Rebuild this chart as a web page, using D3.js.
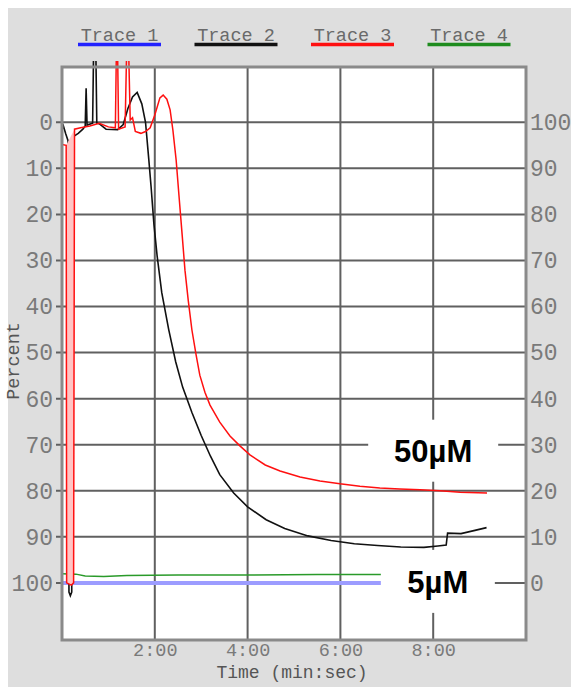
<!DOCTYPE html>
<html>
<head>
<meta charset="utf-8">
<script src="https://cdn.jsdelivr.net/npm/d3@7"></script>
<style>
  html, body { margin: 0; padding: 0; background: #fff; }
  #chart { width: 574px; height: 687px; }
</style>
</head>
<body>
<div id="chart"></div>
<script>
// 图例名称和颜色
const traceNames = ['Trace 1', 'Trace 2', 'Trace 3', 'Trace 4'];
const traceColors = ['#2222ff', '#111111', '#ff1010', '#1e8c1e'];

// 坐标轴刻度
const leftTicks = [0, 10, 20, 30, 40, 50, 60, 70, 80, 90, 100];
const rightTicks = [100, 90, 80, 70, 60, 50, 40, 30, 20, 10, 0];
const timeTicks = [2, 4, 6, 8];
const timeLabels = ['2:00', '4:00', '6:00', '8:00'];

// [分钟, 百分比(左轴)]
const trace1 = [[0, 100], [3, 100], [6, 100], [9.2, 100]];
const trace4 = [[0, 98], [0.3, 98.1], [0.5, 98.5], [0.9, 98.6], [1.4, 98.4], [2.5, 98.3],
  [4, 98.3], [5.5, 98.2], [7, 98.2], [9.2, 98.2]];
const trace2 = [[0, 1.7], [0.03, 0.8], [0.08, 2.5], [0.13, 4], [0.15, 102], [0.18, 102.8],
  [0.21, 102], [0.23, 8], [0.26, 3], [0.35, 2.4], [0.45, 1.5], [0.5, 0.8], [0.52, -7.4],
  [0.54, 0.6], [0.66, 0.2], [0.68, -15], [0.73, -15], [0.75, 0.2], [0.8, 0.3], [0.95, 1.5],
  [1.2, 1.6], [1.32, 0.5], [1.42, -3], [1.52, -5.5], [1.62, -6.5], [1.72, -4], [1.8, 0],
  [1.87, 8], [1.92, 14], [1.98, 22], [2.05, 29], [2.15, 37], [2.3, 45], [2.45, 52],
  [2.6, 57.5], [2.8, 63], [3.0, 68], [3.2, 72.5], [3.4, 76.5], [3.7, 80.5], [4.0, 83.5],
  [4.4, 86.3], [4.8, 88.2], [5.3, 89.8], [5.8, 90.8], [6.3, 91.5], [6.8, 91.9], [7.3, 92.2],
  [7.8, 92.3], [8.1, 92.0], [8.28, 91.8], [8.31, 89.2], [8.6, 89.3], [8.9, 88.6], [9.15, 88.0]];
const trace3Dip = [[0.09, 5], [0.1, 100], [0.2, 100.5], [0.25, 100], [0.27, 1.5]];
const trace3 = [[0, 4.8], [0.09, 5], [0.1, 100], [0.2, 100.5], [0.25, 100], [0.27, 1.5],
  [0.4, 1.2], [0.6, 0.8], [0.8, 0.2], [1.0, 1.0], [1.15, 1.2], [1.17, -14], [1.2, -14],
  [1.22, 1.5], [1.36, 1], [1.39, -14], [1.44, -14], [1.47, -0.5], [1.52, -1], [1.58, 2],
  [1.7, 2.4], [1.8, 2], [1.9, 1.2], [2.0, -1.6], [2.11, -5.3], [2.18, -5.9], [2.26, -5],
  [2.33, -2.7], [2.39, 1.7], [2.46, 8.2], [2.52, 15.8], [2.59, 24.5], [2.65, 32.1],
  [2.72, 38.6], [2.8, 45.1], [2.89, 50.5], [2.97, 54.9], [3.08, 58.6], [3.19, 61.4],
  [3.4, 65.1], [3.62, 68.1], [3.84, 70.3], [4.05, 72.2], [4.38, 74.4], [4.7, 75.7],
  [5.13, 77], [5.56, 77.9], [5.99, 78.5], [6.42, 79], [6.85, 79.4], [7.28, 79.6],
  [7.72, 79.8], [8.15, 80], [8.58, 80.3], [9.16, 80.5]];

// 注释
const notes = [
  { text: '50µM', t: 8, v: 70, dy: 6, w: 130, h: 62 },
  { text: '5µM', t: 8.1, v: 100, dy: -1.5, w: 114, h: 63 }
];

const width = 574, height = 687;
const margin = { top: 67, right: 48, bottom: 47, left: 62 };

const svg = d3.select('#chart').append('svg')
  .attr('width', width)
  .attr('height', height);

// 灰色背景
svg.append('rect').attr('x', 8).attr('y', 8)
  .attr('width', width - 11).attr('height', height - 8)
  .attr('fill', '#dedede');

const x = d3.scaleLinear().domain([0, 10]).range([margin.left, width - margin.right]);
const y = d3.scaleLinear().domain([-12, 112.4]).range([margin.top, height - margin.bottom]);
const yR = d3.scaleLinear().domain([100, 0]).range([y(0), y(100)]);

svg.append('rect')
  .attr('x', x(0)).attr('y', y(-12))
  .attr('width', x(10) - x(0)).attr('height', y(112.4) - y(-12))
  .attr('fill', '#fff');

// 网格线
svg.append('g').selectAll('line').data(leftTicks).join('line')
  .attr('x1', x(0) - 6).attr('x2', x(10))
  .attr('y1', d => y(d)).attr('y2', d => y(d))
  .attr('stroke', '#606060').attr('stroke-width', 2);

svg.append('g').selectAll('line').data(timeTicks).join('line')
  .attr('x1', d => x(d)).attr('x2', d => x(d))
  .attr('y1', y(-12)).attr('y2', y(112.4))
  .attr('stroke', '#606060').attr('stroke-width', 2);

// 曲线
svg.append('defs').append('clipPath').attr('id', 'clip')
  .append('rect')
  .attr('x', x(0)).attr('y', y(-12) - 6)
  .attr('width', x(10) - x(0)).attr('height', y(112.4) - y(-12) + 6);

const line = d3.line().x(d => x(d[0])).y(d => y(d[1]));
const plot = svg.append('g').attr('clip-path', 'url(#clip)');

plot.append('path').datum(trace1).attr('d', line)
  .attr('fill', 'none').attr('stroke', '#9c9cff').attr('stroke-width', 4);
plot.append('path').datum(trace4).attr('d', line)
  .attr('fill', 'none').attr('stroke', '#2a9a2a').attr('stroke-width', 1.5);
plot.append('path').datum(trace2).attr('d', line)
  .attr('fill', 'none').attr('stroke', '#111').attr('stroke-width', 1.6);
plot.append('path').datum(trace3Dip).attr('d', line)
  .attr('fill', '#ffc4c4').attr('stroke', 'none');
plot.append('path').datum(trace3).attr('d', line)
  .attr('fill', 'none').attr('stroke', '#ff1010').attr('stroke-width', 1.5);

// 边框
svg.append('rect')
  .attr('x', x(0)).attr('y', y(-12))
  .attr('width', x(10) - x(0)).attr('height', y(112.4) - y(-12))
  .attr('fill', 'none').attr('stroke', '#8a8a8a').attr('stroke-width', 3);

// 坐标轴文字
const mono = '"Liberation Mono", "DejaVu Sans Mono", monospace';

const gl = svg.append('g').attr('transform', `translate(${x(0)},0)`)
  .call(d3.axisLeft(y).tickValues(leftTicks).tickSize(6).tickPadding(3));
const gr = svg.append('g').attr('transform', `translate(${x(10)},0)`)
  .call(d3.axisRight(yR).tickValues(rightTicks).tickSize(0).tickPadding(4));
[gl, gr].forEach(g => {
  g.select('.domain').remove();
  g.selectAll('line').remove();
  g.selectAll('text').attr('font-family', mono).attr('font-size', 23).attr('fill', '#7a7a7a');
});

const gb = svg.append('g').attr('transform', `translate(0,${y(112.4)})`)
  .call(d3.axisBottom(x).tickValues(timeTicks).tickFormat((d, i) => timeLabels[i])
    .tickSize(0).tickPadding(3));
gb.select('.domain').remove();
gb.selectAll('text').attr('font-family', mono).attr('font-size', 18.5).attr('fill', '#7a7a7a');

svg.append('text')
  .attr('x', 292).attr('y', 678)
  .attr('text-anchor', 'middle')
  .attr('font-family', mono).attr('font-size', 18).attr('fill', '#555')
  .text('Time (min:sec)');

svg.append('text')
  .attr('transform', 'translate(19,361) rotate(-90)')
  .attr('text-anchor', 'middle')
  .attr('font-family', mono).attr('font-size', 18.5).attr('fill', '#555')
  .text('Percent');

// 图例
const lx = d3.scalePoint().domain(traceNames).range([119.5, 469]);
const leg = svg.append('g').selectAll('g').data(traceNames).join('g')
  .attr('transform', d => `translate(${lx(d)},0)`);
leg.append('line')
  .attr('x1', -41.5).attr('x2', 41.5).attr('y1', 44.5).attr('y2', 44.5)
  .attr('stroke', (d, i) => traceColors[i]).attr('stroke-width', 3.5);
leg.append('text')
  .attr('y', 40.5).attr('text-anchor', 'middle')
  .attr('font-family', mono).attr('font-size', 18.5).attr('fill', '#6a6a6a')
  .text(d => d);

// 浓度标签
const ng = svg.append('g').selectAll('g').data(notes).join('g')
  .attr('transform', d => `translate(${x(d.t)},${y(d.v) + d.dy})`);
ng.append('rect')
  .attr('x', d => -d.w / 2).attr('y', d => -d.h / 2)
  .attr('width', d => d.w).attr('height', d => d.h)
  .attr('fill', '#fff');
ng.append('text')
  .attr('text-anchor', 'middle').attr('dy', '0.36em')
  .attr('font-family', 'Liberation Sans, Arial, sans-serif')
  .attr('font-weight', 'bold').attr('font-size', 31).attr('fill', '#000')
  .text(d => d.text);
</script>
</body>
</html>
